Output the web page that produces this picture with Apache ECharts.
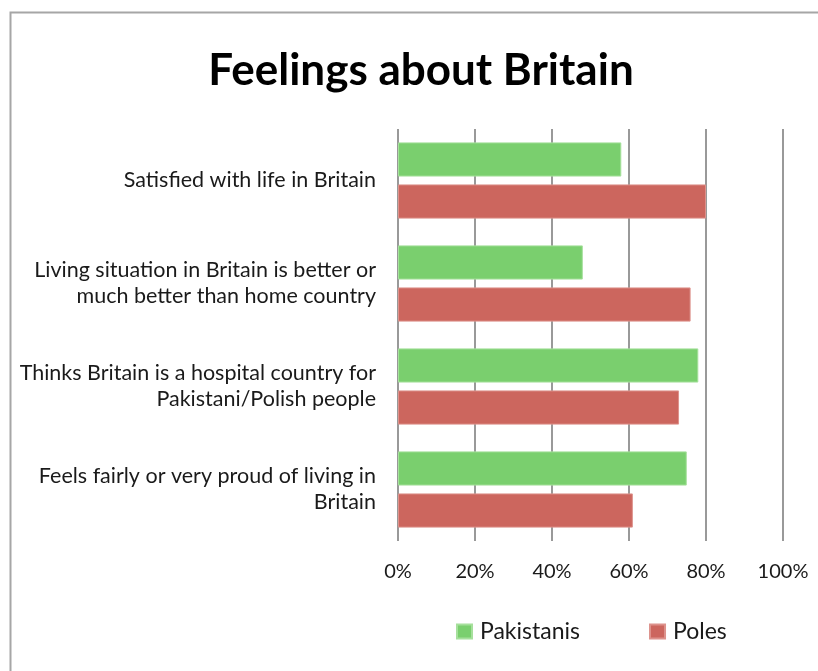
<!DOCTYPE html>
<html>
<head>
<meta charset="utf-8">
<script src="https://cdn.jsdelivr.net/npm/echarts@6/dist/echarts.min.js"></script>
<style>html,body{margin:0;padding:0;background:#fff}#c{width:818px;height:671px}</style>
</head>
<body>
<div id="c"></div>
<script>
const categories = [
  "Satisfied with life in Britain",
  "Living situation in Britain is better or\nmuch better than home country",
  "Thinks Britain is a hospital country for\nPakistani/Polish people",
  "Feels fairly or very proud of living in\nBritain"
];
const pakistanis = [58, 48, 78, 75];
const poles = [80, 76, 73, 61];
const xTicks = [0, 20, 40, 60, 80, 100];

const FONT = 'Lato';
const chart = echarts.init(document.getElementById('c'));
chart.setOption({
  animation: false,
  backgroundColor: '#fff',
  title: {
    text: 'Feelings about Britain',
    left: 416, top: 44, textAlign: 'center',
    textStyle: { fontFamily: FONT, fontWeight: 'bold', fontSize: 44, color: '#000' }
  },
  graphic: [{
    type: 'rect', left: 8, top: 10,
    shape: { width: 830, height: 700 },
    style: { fill: 'none', stroke: '#a6a6a6', lineWidth: 2 }
  }],
  legend: {
    top: 615, left: 451, itemGap: 69,
    itemWidth: 15, itemHeight: 14, icon: 'rect',
    textStyle: { fontFamily: FONT, fontSize: 23, color: '#1a1a1a', padding: [0, 0, 0, 3] },
    data: ['Pakistanis', 'Poles']
  },
  grid: { left: 398, top: 129, width: 385, height: 412, containLabel: false },
  xAxis: {
    type: 'value', min: 0, max: 100, interval: 20,
    axisLine: { show: false }, axisTick: { show: false },
    splitLine: { show: true, lineStyle: { color: '#999', width: 2 } },
    axisLabel: { formatter: v => xTicks.includes(v) ? v + '%' : '', fontFamily: FONT, fontSize: 20, color: '#1a1a1a', margin: 21 }
  },
  yAxis: {
    type: 'category', inverse: true, data: categories,
    axisLine: { show: false }, axisTick: { show: false },
    axisLabel: { fontFamily: FONT, fontSize: 21.5, color: '#1a1a1a', margin: 22, lineHeight: 26, align: 'right', padding: [5, 0, 0, 0] }
  },
  series: [
    { name: 'Pakistanis', type: 'bar', data: pakistanis, barCategoryGap: '26%', barGap: '23%',
      itemStyle: { color: '#7acf6e', borderColor: '#a6e09c', borderWidth: 1 } },
    { name: 'Poles', type: 'bar', data: poles,
      itemStyle: { color: '#cc665e', borderColor: '#dd928c', borderWidth: 1 } }
  ]
});
</script>
</body>
</html>
